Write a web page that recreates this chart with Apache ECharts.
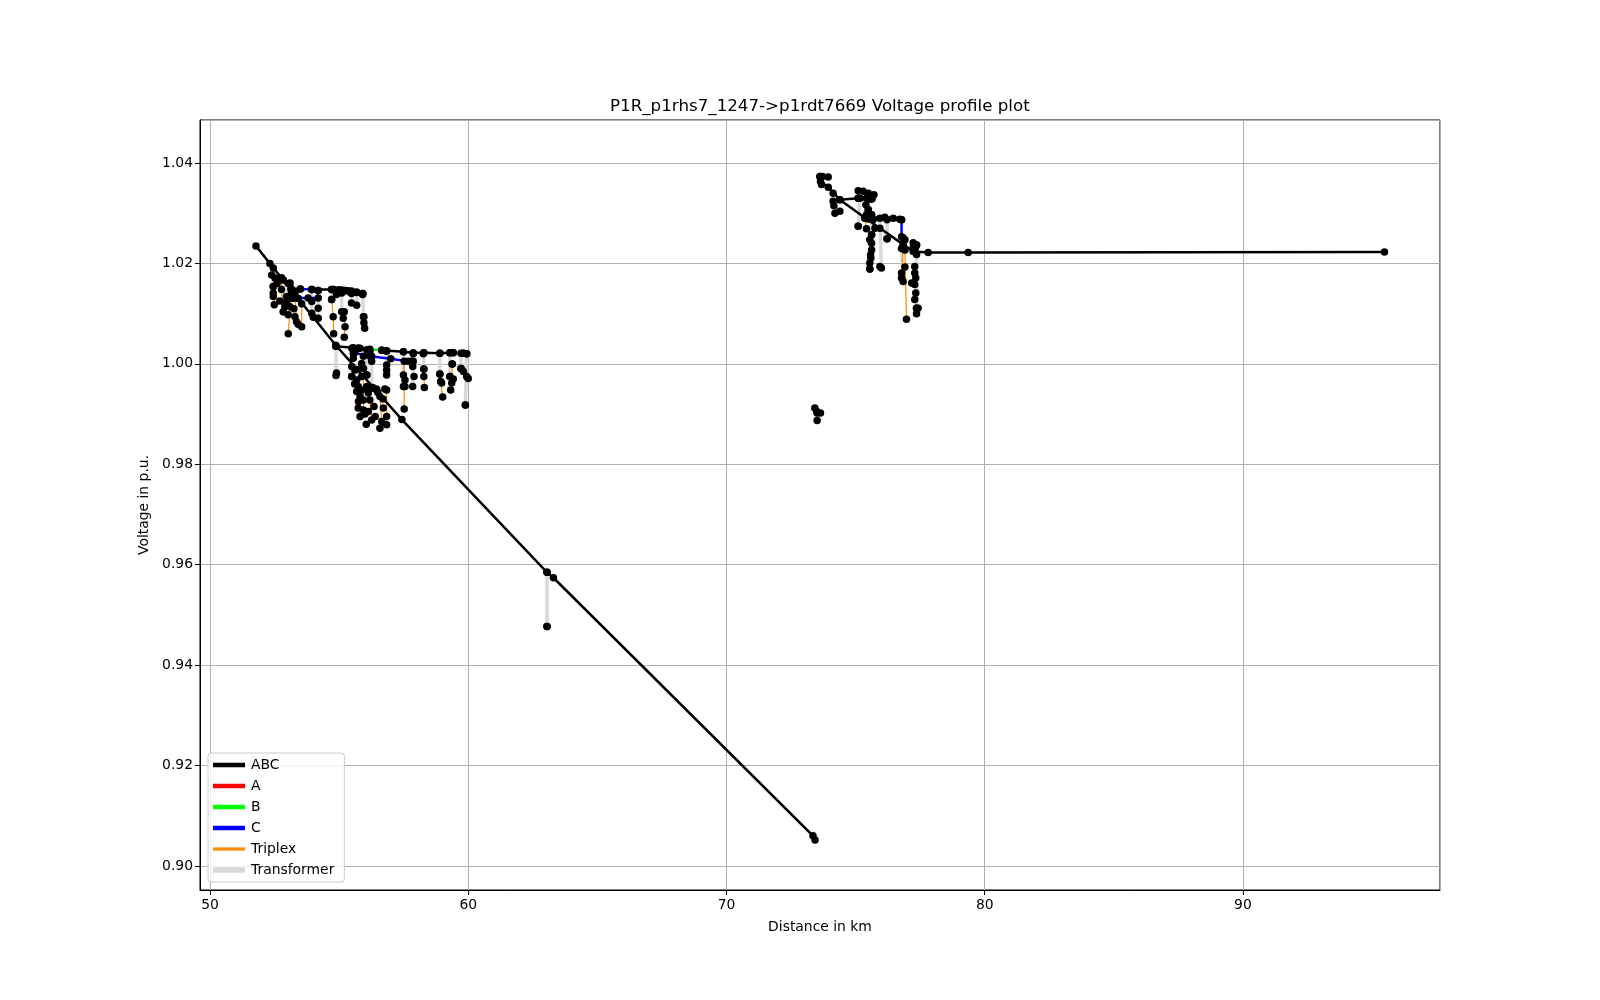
<!DOCTYPE html>
<html>
<head>
<meta charset="utf-8">
<script src="https://cdn.jsdelivr.net/npm/echarts@6/dist/echarts.min.js"></script>
<style>
  html, body { margin: 0; padding: 0; background: #fff; }
  #chart { width: 1600px; height: 1000px; }
</style>
</head>
<body>
<div id="chart"></div>
<script>
  // polylines, each point is [distance km, voltage p.u.]
  var abcPaths = [
    [[51.78, 1.0235], [52.32, 1.0200], [52.77, 1.0171], [53.14, 1.0148], [53.42, 1.0130], [54.0, 1.0093], [54.87, 1.0037],
     [55.7, 0.9989], [56.5, 0.9943], [57.43, 0.9889], [63.05, 0.9585], [63.30, 0.9574], [73.35, 0.9060], [73.43, 0.9052]],
    [[53.14, 1.0150], [53.5, 1.0149]],
    [[53.94, 1.0148], [54.78, 1.0148]],
    [[54.98, 1.0147], [55.23, 1.0146]],
    [[55.36, 1.0145], [55.68, 1.0142], [55.92, 1.0140]],
    [[54.87, 1.0035], [55.55, 1.0032], [55.74, 1.0031]],
    [[56.65, 1.0027], [57.49, 1.0024], [57.87, 1.0022], [58.28, 1.0022], [58.90, 1.0021], [59.29, 1.0022], [59.42, 1.0022]],
    [[59.81, 1.0021], [59.94, 1.0020]],
    [[73.62, 1.0373], [73.64, 1.0363], [73.94, 1.0352], [74.39, 1.0327], [75.36, 1.0291], [76.84, 1.0238], [77.23, 1.0224],
     [77.81, 1.0222], [79.36, 1.0222], [95.48, 1.0223]],
    [[74.39, 1.0327], [75.10, 1.0330], [75.55, 1.0330]],
    [[75.36, 1.0291], [76.13, 1.0292], [76.46, 1.0290], [76.78, 1.0287]]
  ];
  var aPaths = [
    [[55.23, 1.0146], [55.36, 1.0145]],
    [[56.30, 0.9953], [56.45, 0.9950]],
    [[75.10, 1.0345], [75.10, 1.0330]]
  ];
  var bPaths = [
    [[54.78, 1.0148], [54.98, 1.0147]],
    [[55.74, 1.0031], [56.19, 1.0029], [56.65, 1.0027]],
    [[59.42, 1.0022], [59.81, 1.0021]],
    [[73.62, 1.0373], [73.72, 1.0373]],
    [[75.55, 1.0330], [75.64, 1.0329]],
    [[77.23, 1.0232], [77.32, 1.0232]]
  ];
  var cPaths = [
    [[53.5, 1.0149], [53.94, 1.0148]],
    [[53.36, 1.0131], [53.8, 1.0131], [54.19, 1.0131]],
    [[55.60, 1.0022], [56.2, 1.0015], [57.0, 1.0010], [57.68, 1.0005], [57.87, 1.0005]],
    [[76.78, 1.0287], [76.78, 1.0253]]
  ];
  var triplexPaths = [
    [[52.45, 1.0154], [52.49, 1.0118]],
    [[52.77, 1.0171], [52.77, 1.0148], [52.84, 1.0104]],
    [[53.10, 1.0161], [53.10, 1.0114], [53.03, 1.0060]],
    [[53.29, 1.0140], [53.35, 1.0084]],
    [[53.55, 1.0120], [53.55, 1.0074]],
    [[54.71, 1.0128], [54.77, 1.0094], [54.79, 1.0060]],
    [[55.20, 1.0104], [55.23, 1.0074], [55.20, 1.0053]],
    [[55.94, 1.0094], [55.99, 1.0071]],
    [[55.68, 0.9968], [55.74, 0.9912], [55.81, 0.9895]],
    [[55.94, 0.9991], [55.94, 0.9908]],
    [[56.19, 0.9928], [56.26, 0.9888]],
    [[56.58, 0.9935], [56.65, 0.9885]],
    [[56.84, 0.9948], [56.84, 0.9879]],
    [[57.52, 1.0005], [57.52, 0.9910]],
    [[58.28, 0.9990], [58.30, 0.9953]],
    [[58.93, 0.9965], [59.01, 0.9934]],
    [[59.38, 1.0000], [59.36, 0.9962], [59.32, 0.9948]],
    [[59.81, 0.9985], [60.00, 0.9971]],
    [[74.16, 1.0315], [74.20, 1.0300]],
    [[75.36, 1.0290], [75.42, 1.0269]],
    [[75.62, 1.0257], [75.55, 1.0189]],
    [[76.91, 1.0227], [76.97, 1.0089]],
    [[76.84, 1.0231], [76.78, 1.0181]],
    [[77.36, 1.0111], [77.36, 1.0100]],
    [[73.51, 0.9902], [73.51, 0.9887]]
  ];
  var transformerPaths = [
    [[52.45, 1.0191], [52.45, 1.0154]],
    [[52.84, 1.0167], [52.84, 1.0104]],
    [[53.03, 1.0160], [53.03, 1.0098]],
    [[53.94, 1.0148], [53.94, 1.0101]],
    [[54.19, 1.0146], [54.19, 1.0091]],
    [[54.71, 1.0148], [54.71, 1.0128]],
    [[55.10, 1.0147], [55.10, 1.0104]],
    [[55.48, 1.0145], [55.48, 1.0121]],
    [[55.68, 1.0143], [55.68, 1.0117]],
    [[55.91, 1.0140], [55.96, 1.0082]],
    [[54.88, 1.0035], [54.88, 0.9977]],
    [[55.49, 1.0031], [55.49, 0.9975]],
    [[56.07, 1.0028], [56.07, 0.9978]],
    [[56.26, 1.0015], [56.26, 0.9952]],
    [[56.84, 1.0026], [56.84, 0.9978]],
    [[57.49, 1.0024], [57.49, 0.9955]],
    [[57.87, 1.0020], [57.85, 0.9955]],
    [[58.28, 1.0022], [58.28, 0.9990]],
    [[58.90, 1.0021], [58.90, 0.9980]],
    [[59.29, 1.0022], [59.29, 0.9975]],
    [[59.72, 1.0021], [59.72, 0.9991]],
    [[59.94, 1.0020], [59.89, 0.9918]],
    [[63.05, 0.9585], [63.05, 0.9477]],
    [[75.17, 1.0330], [75.10, 1.0274]],
    [[75.49, 1.0307], [75.49, 1.0289]],
    [[75.62, 1.0297], [75.55, 1.0189]],
    [[75.94, 1.0290], [76.00, 1.0191]],
    [[76.22, 1.0287], [76.22, 1.0249]],
    [[76.78, 1.0230], [76.84, 1.0164]],
    [[77.36, 1.0237], [77.36, 1.0111]]
  ];
  // node dots not already on a path vertex
  var nodeDots = [
    [52.39, 1.0177], [52.52, 1.0171], [52.45, 1.0141], [52.45, 1.0134], [52.97, 1.0134], [52.97, 1.0124], [53.29, 1.0094],
    [53.20, 1.0130], [53.25, 1.0110], [53.15, 1.0140], [52.90, 1.0115], [53.41, 1.0079], [52.60, 1.0160], [52.70, 1.0125],
    [53.94, 1.0124], [54.19, 1.0111], [54.90, 1.0138], [55.16, 1.0091], [55.10, 1.0141], [55.48, 1.0140],
    [55.91, 1.0138], [55.96, 1.0094], [54.19, 1.0146], [54.71, 1.0148],
    [55.81, 1.0031], [55.55, 1.0021], [55.94, 1.0015], [55.55, 1.0011], [55.49, 0.9995], [55.61, 0.9988], [55.87, 1.0001],
    [55.49, 0.9975], [55.87, 0.9975], [56.07, 0.9978], [55.74, 0.9955], [55.87, 0.9948], [55.68, 0.9945], [56.07, 0.9955],
    [56.26, 0.9952], [56.13, 0.9942], [55.81, 0.9935], [55.94, 0.9928], [56.13, 0.9905], [56.45, 0.9948], [56.77, 0.9950],
    [56.71, 0.9912], [56.84, 0.9895], [56.58, 0.9872], [56.19, 1.0025], [56.22, 1.0015], [56.26, 1.0005], [56.84, 1.0025],
    [56.84, 0.9998], [56.84, 0.9988], [57.49, 0.9978], [57.55, 0.9968], [57.55, 0.9955], [57.81, 1.0005], [57.85, 0.9995],
    [57.90, 0.9975], [58.26, 1.0020], [58.28, 0.9975], [58.90, 0.9980], [58.97, 0.9962], [59.38, 1.0000], [59.29, 0.9975],
    [59.42, 0.9970], [59.72, 0.9991], [59.94, 0.9975], [59.89, 0.9918], [54.90, 0.9982], [55.55, 1.0031],
    [55.60, 0.9960], [55.75, 0.9925], [56.00, 0.9900], [56.35, 0.9915], [56.40, 0.9895], [56.70, 0.9930], [56.05, 0.9880],
    [63.05, 0.9477],
    [73.42, 0.9912], [73.64, 0.9902], [73.50, 0.9905],
    [73.94, 1.0372], [73.68, 1.0357], [74.13, 1.0340], [74.13, 1.0324], [74.39, 1.0304], [75.29, 1.0344], [75.49, 1.0340],
    [75.71, 1.0337], [75.42, 1.0330], [75.59, 1.0328], [75.40, 1.0317], [75.49, 1.0307], [75.42, 1.0297], [75.62, 1.0297],
    [75.49, 1.0289], [75.68, 1.0287], [75.10, 1.0274], [75.75, 1.0270], [75.62, 1.0257], [75.55, 1.0247], [75.62, 1.0240],
    [75.62, 1.0227], [75.58, 1.0217], [75.59, 1.0211], [75.55, 1.0201], [75.94, 1.0270], [76.22, 1.0249], [75.94, 1.0194],
    [76.71, 1.0288], [76.84, 1.0251], [76.91, 1.0247], [77.23, 1.0241], [77.36, 1.0237], [77.29, 1.0224], [77.36, 1.0218],
    [76.91, 1.0193], [76.78, 1.0171], [77.17, 1.0161], [77.29, 1.0194], [77.29, 1.0181], [77.33, 1.0171], [77.29, 1.0158],
    [77.33, 1.0141], [77.29, 1.0128], [77.42, 1.0111]
  ];

  var phaseNames = ['ABC', 'A', 'B', 'C', 'Triplex', 'Transformer'];
  var phaseColors = ['#000000', '#ff0000', '#00ff00', '#0000ff', '#ff8c00', '#d9d9d9'];
  var xTickLabels = [50, 60, 70, 80, 90];
  var yTickLabels = [0.90, 0.92, 0.94, 0.96, 0.98, 1.00, 1.02, 1.04];

  var font = 'DejaVu Sans';

  function linesSeries(name, paths, color, width, z) {
    return {
      name: name,
      type: 'lines',
      coordinateSystem: 'cartesian2d',
      polyline: true,
      silent: true,
      z: z,
      lineStyle: { color: color, width: width, opacity: 1 },
      data: paths.map(function(p) { return { coords: p }; })
    };
  }

  // every vertex of a path is a node too
  var allDots = nodeDots.slice();
  [abcPaths, aPaths, bPaths, cPaths, triplexPaths, transformerPaths].forEach(function(group) {
    group.forEach(function(p) { p.forEach(function(pt) { allDots.push(pt); }); });
  });

  var chart = echarts.init(document.getElementById('chart'), null, { renderer: 'canvas' });
  chart.setOption({
    animation: false,
    backgroundColor: '#fff',
    // 标题
    title: {
      text: 'P1R_p1rhs7_1247->p1rdt7669 Voltage profile plot',
      left: 610,
      top: 98,
      padding: 0,
      textStyle: { fontFamily: font, fontSize: 16.7, fontWeight: 'normal', color: '#000' }
    },
    grid: {
      left: 200, top: 120, width: 1240, height: 770,
      show: true, borderColor: '#000', borderWidth: 1
    },
    // 图例
    legend: {
      orient: 'vertical',
      left: 208,
      top: 753,
      padding: [4, 10, 4, 5],
      itemGap: 5,
      itemWidth: 30,
      itemHeight: 4,
      borderColor: '#cccccc',
      borderWidth: 1,
      borderRadius: 3,
      backgroundColor: 'rgba(255,255,255,0.8)',
      textStyle: { fontFamily: font, fontSize: 13.9, color: '#000', lineHeight: 16, padding: [0, 0, 0, 2] },
      data: [
        { name: 'ABC', icon: 'path://M0,0h30v2.5h-30z', itemStyle: { color: phaseColors[0] } },
        { name: 'A', icon: 'path://M0,0h30v2.5h-30z', itemStyle: { color: phaseColors[1] } },
        { name: 'B', icon: 'path://M0,0h30v2.5h-30z', itemStyle: { color: phaseColors[2] } },
        { name: 'C', icon: 'path://M0,0h30v2.5h-30z', itemStyle: { color: phaseColors[3] } },
        { name: 'Triplex', icon: 'path://M0,0h30v1.2h-30z', itemStyle: { color: phaseColors[4] } },
        { name: 'Transformer', icon: 'path://M0,0h30v3.5h-30z', itemStyle: { color: phaseColors[5] } }
      ]
    },
    // X轴
    xAxis: {
      type: 'value',
      min: 49.613,
      max: 97.63,
      splitNumber: 5,
      minInterval: 10,
      maxInterval: 10,
      name: 'Distance in km',
      nameLocation: 'middle',
      nameGap: 30,
      nameTextStyle: { fontFamily: font, fontSize: 13.9, color: '#000' },
      axisLine: { show: true, lineStyle: { color: '#000', width: 1 } },
      axisTick: { show: true, length: 5, lineStyle: { color: '#000' } },
      axisLabel: {
        showMinLabel: false, showMaxLabel: false,
        fontFamily: font, fontSize: 13.9, color: '#000', margin: 8,
        formatter: function(v) { return xTickLabels.indexOf(Math.round(v)) >= 0 ? String(Math.round(v)) : ''; }
      },
      splitLine: { show: true, lineStyle: { color: '#b0b0b0', width: 1 } }
    },
    // Y轴
    yAxis: {
      type: 'value',
      min: 0.89522,
      max: 1.04857,
      splitNumber: 7,
      minInterval: 0.02,
      maxInterval: 0.02,
      name: 'Voltage in p.u.',
      nameLocation: 'middle',
      nameGap: 46,
      nameTextStyle: { fontFamily: font, fontSize: 13.9, color: '#000' },
      axisLine: { show: true, lineStyle: { color: '#000', width: 1 } },
      axisTick: { show: true, length: 5, lineStyle: { color: '#000' } },
      axisLabel: {
        showMinLabel: false, showMaxLabel: false,
        fontFamily: font, fontSize: 13.9, color: '#000', margin: 7,
        formatter: function(v) { return v.toFixed(2); }
      },
      splitLine: { show: true, lineStyle: { color: '#b0b0b0', width: 1 } }
    },
    series: [
      linesSeries('Transformer', transformerPaths, phaseColors[5], 3.5, 2),
      linesSeries('Triplex', triplexPaths, phaseColors[4], 1.2, 3),
      linesSeries('ABC', abcPaths, phaseColors[0], 2.5, 4),
      linesSeries('A', aPaths, phaseColors[1], 2.5, 5),
      linesSeries('B', bPaths, phaseColors[2], 2.5, 5),
      linesSeries('C', cPaths, phaseColors[3], 2.5, 5),
      {
        name: 'nodes',
        type: 'scatter',
        silent: true,
        z: 6,
        symbol: 'circle',
        symbolSize: 7.5,
        itemStyle: { color: '#000', opacity: 1 },
        data: allDots
      }
    ]
  });
</script>
</body>
</html>
